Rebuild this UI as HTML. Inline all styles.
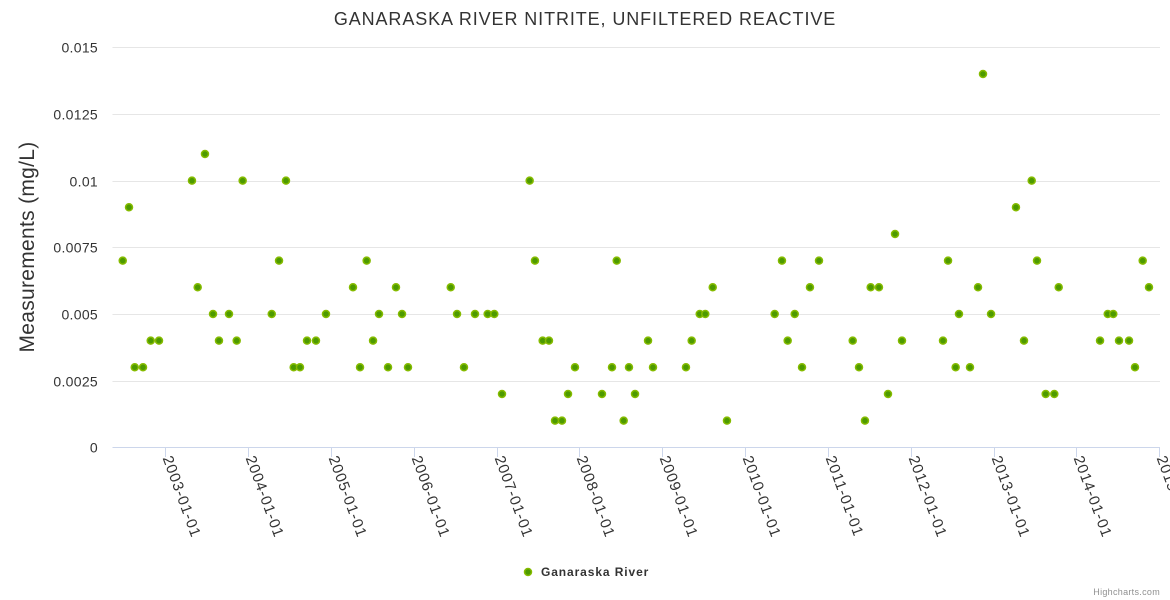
<!DOCTYPE html>
<html><head><meta charset="utf-8"><style>
body{margin:0;background:#fff;}
svg{display:block;font-family:"Liberation Sans",sans-serif;}
</style></head><body>
<svg id="chart" width="1170" height="600">
<text x="585" y="25" text-anchor="middle" font-size="18" fill="#333" letter-spacing="0.9">GANARASKA RIVER NITRITE, UNFILTERED REACTIVE</text>
<text transform="translate(34,247) rotate(-90)" text-anchor="middle" font-size="21" fill="#333" letter-spacing="0.3">Measurements (mg/L)</text>
<g id="grid"></g><g id="xaxis"></g><g id="pts"></g>
<g>
<circle cx="528" cy="572" r="3.5" fill="#4d9a00" stroke="#85bb00" stroke-width="1.5"/>
<text x="541" y="576" font-size="12" font-weight="bold" fill="#333" letter-spacing="0.9">Ganaraska River</text>
</g>
<text x="1160" y="595" text-anchor="end" font-size="9" fill="#909090" letter-spacing="0.3">Highcharts.com</text>
</svg>
<script>
const dates=[2002.486,2002.562,2002.631,2002.731,2002.824,2002.924,2003.322,2003.391,2003.479,2003.576,2003.648,2003.769,2003.862,2003.934,2004.285,2004.373,2004.457,2004.550,2004.626,2004.711,2004.819,2004.940,2005.266,2005.351,2005.431,2005.508,2005.580,2005.689,2005.785,2005.858,2005.930,2006.446,2006.522,2006.606,2006.739,2006.892,2006.972,2007.065,2007.399,2007.463,2007.556,2007.632,2007.705,2007.789,2007.862,2007.946,2008.272,2008.393,2008.450,2008.534,2008.598,2008.671,2008.828,2008.888,2009.286,2009.355,2009.452,2009.519,2009.609,2009.781,2010.357,2010.445,2010.514,2010.599,2010.687,2010.783,2010.892,2011.299,2011.375,2011.447,2011.516,2011.616,2011.725,2011.810,2011.894,2012.389,2012.450,2012.542,2012.582,2012.715,2012.812,2012.872,2012.969,2013.270,2013.367,2013.460,2013.524,2013.629,2013.733,2013.786,2014.285,2014.378,2014.445,2014.514,2014.635,2014.707,2014.800,2014.876];
const values=[0.007,0.009,0.003,0.003,0.004,0.004,0.010,0.006,0.011,0.005,0.004,0.005,0.004,0.010,0.005,0.007,0.010,0.003,0.003,0.004,0.004,0.005,0.006,0.003,0.007,0.004,0.005,0.003,0.006,0.005,0.003,0.006,0.005,0.003,0.005,0.005,0.005,0.002,0.010,0.007,0.004,0.004,0.001,0.001,0.002,0.003,0.002,0.003,0.007,0.001,0.003,0.002,0.004,0.003,0.003,0.004,0.005,0.005,0.006,0.001,0.005,0.007,0.004,0.005,0.003,0.006,0.007,0.004,0.003,0.001,0.006,0.006,0.002,0.008,0.004,0.004,0.007,0.003,0.005,0.003,0.006,0.014,0.005,0.009,0.004,0.010,0.007,0.002,0.002,0.006,0.004,0.005,0.005,0.004,0.004,0.003,0.007,0.006];
const yTicks=[0,0.0025,0.005,0.0075,0.01,0.0125,0.015];
const yTickLabels=["0","0.0025","0.005","0.0075","0.01","0.0125","0.015"];
const xTicks=[2003,2004,2005,2006,2007,2008,2009,2010,2011,2012,2013,2014,2015];
const xTickLabels=["2003-01-01","2004-01-01","2005-01-01","2006-01-01","2007-01-01","2008-01-01","2009-01-01","2010-01-01","2011-01-01","2012-01-01","2013-01-01","2014-01-01","2015-01-01"];
const NS="http://www.w3.org/2000/svg";
const L=112.5,R=1160,T=47.3,B=447.3;
const xS=v=>165.3+(v-2003)*82.83;
const yS=v=>B-(v/0.015)*(B-T);
function mk(t,a,p){const e=document.createElementNS(NS,t);for(const k in a)e.setAttribute(k,a[k]);p.appendChild(e);return e;}
const grid=document.getElementById('grid');
yTicks.forEach((v,i)=>{
 const y=Math.round(yS(v))+0.5;
 if(i>0){const g=mk('line',{x1:L,x2:R,y1:y,y2:y,stroke:'#e6e6e6','stroke-width':1},grid);
 
 }
 const t=mk('text',{x:98,y:y+5,'text-anchor':'end','font-size':14,fill:'#333','letter-spacing':0.3},grid);
 t.textContent=yTickLabels[i];
 
 
});
const xa=document.getElementById('xaxis');
const ax=mk('line',{x1:L,x2:R,y1:447.5,y2:447.5,stroke:'#ccd6eb','stroke-width':1},xa);


xTicks.forEach((v,i)=>{
 const x=Math.round(xS(v))+0.5;
 const tk=mk('line',{x1:x,x2:x,y1:447,y2:457,stroke:'#ccd6eb'},xa);
 
 
 const t=mk('text',{x:0,y:0,'font-size':15,fill:'#333','letter-spacing':0.9,transform:`translate(${x-3},${458}) rotate(70)`},xa);
 t.textContent=xTickLabels[i];
 
 
});
const pts=document.getElementById('pts');
dates.forEach((d,i)=>{
 const c=mk('circle',{cx:xS(d),cy:yS(values[i]),r:3.5,fill:'#4d9a00',stroke:'#85bb00','stroke-width':1.5},pts);
 
 
});
</script>
</body></html>
